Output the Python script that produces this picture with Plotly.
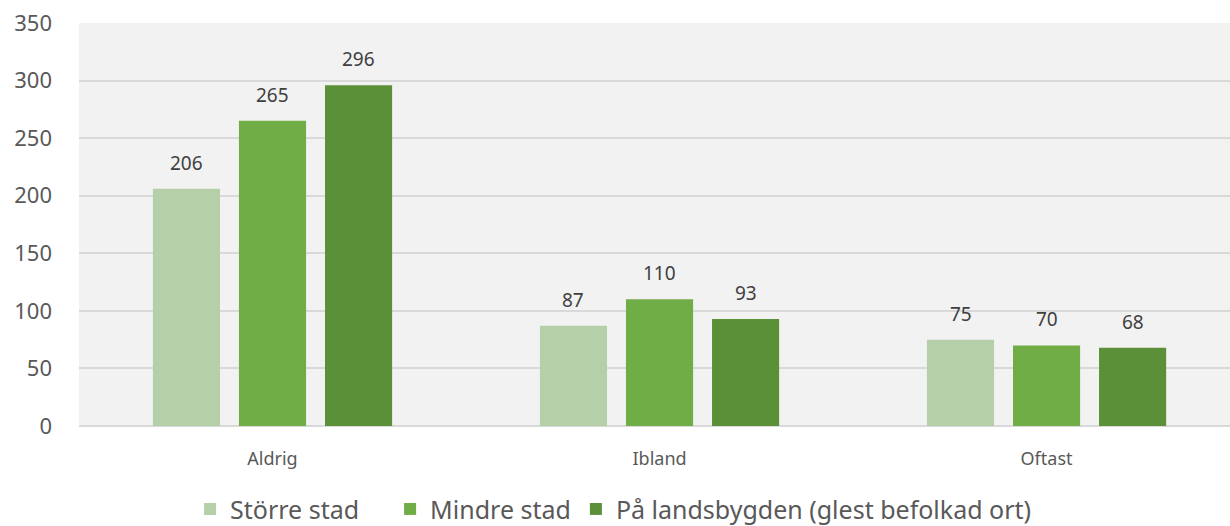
import plotly.graph_objects as go

categories = ["Aldrig", "Ibland", "Oftast"]
series_names = ["Större stad", "Mindre stad", "På landsbygden (glest befolkad ort)"]
storre_stad = [206, 87, 75]
mindre_stad = [265, 110, 70]
landsbygden = [296, 93, 68]
colors = ["#B5D0A8", "#70AD47", "#5B9038"]

BARGAP = 0.333
series = [storre_stad, mindre_stad, landsbygden]
n = len(series)
slot = (1 - BARGAP) / n
pads = ["\u00a0" * 4, "", ""]

fig = go.Figure()
for i, (name, vals, col) in enumerate(zip(series_names, series, colors)):
    fig.add_trace(go.Bar(
        x=categories, y=vals, name=name + pads[i], marker_color=col,
        marker_line_width=0,
    ))
    off = -(1 - BARGAP) / 2 + slot * (i + 0.5)
    for ci, v in enumerate(vals):
        fig.add_annotation(x=ci + off, y=v, text=str(v), showarrow=False,
                           yanchor="bottom", yshift=11,
                           font=dict(size=19, color="#404040"))

fig.update_layout(
    width=1230, height=526,
    margin=dict(l=79, r=0, t=23, b=100),
    paper_bgcolor="white", plot_bgcolor="#F2F2F2",
    font=dict(family="Noto Sans, Open Sans, sans-serif", color="#595959"),
    barmode="group", bargap=BARGAP, bargroupgap=0.22,
    showlegend=True,
    legend=dict(orientation="h", x=0.0965, xanchor="left", yref="container",
                y=0.032, yanchor="middle",
                font=dict(size=25, color="#595959"), itemsizing="constant"),
)
fig.update_xaxes(range=[-0.5, 2.474], showgrid=False, ticks="", tickfont=dict(size=18, color="#595959"),
                 showline=False, automargin=False, ticklabelstandoff=20)
fig.update_yaxes(range=[0, 350], dtick=50, showgrid=True, gridcolor="#D9D9D9", gridwidth=2,
                 zeroline=True, zerolinecolor="#D9D9D9", zerolinewidth=2,
                 tickfont=dict(size=22, color="#595959"), ticks="", ticklabelstandoff=26,
                 automargin=False, ticklabeloverflow="allow")
fig.write_html("out.html", config={"displayModeBar": False},
               post_script="document.body.style.margin='0';")
